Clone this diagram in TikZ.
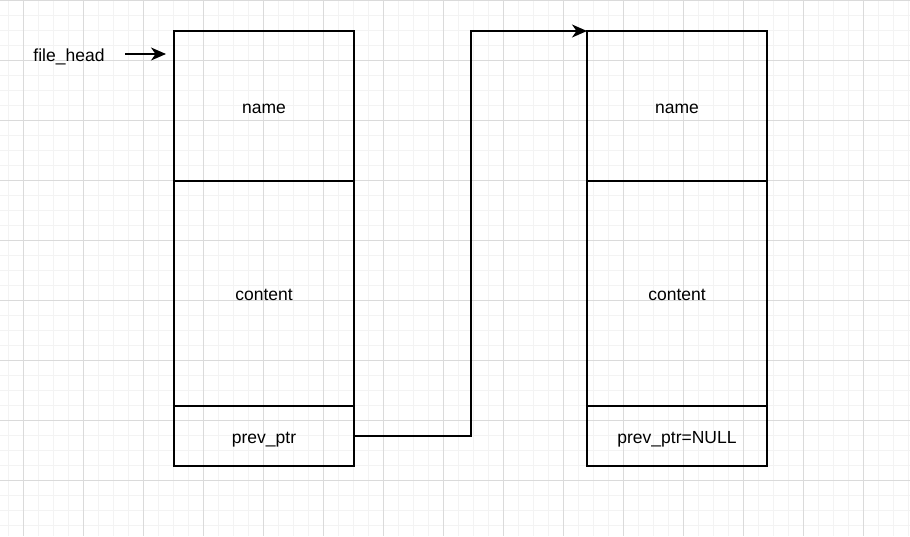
\documentclass[tikz,border=0pt]{standalone}
\usepackage{fontspec}
\setmainfont{Liberation Sans}
\usepackage{tikz}
\usetikzlibrary{arrows.meta,positioning,calc}
\definecolor{gridminor}{RGB}{243,243,243}
\definecolor{gridmajor}{RGB}{218,218,218}

\begin{document}
\begin{tikzpicture}[
        x=1pt,y=-1pt,
        node distance=0pt,
        lbl/.style={font=\fontsize{17.5}{20}\selectfont,
                    text height=14pt,text depth=0pt},
        cell/.style={lbl,draw,line width=1.5pt,minimum width=180pt,
                     inner sep=0pt,outer sep=0pt},
        namecell/.style={cell,minimum height=150pt},
        bodycell/.style={cell,minimum height=225pt},
        ptrcell/.style={cell,minimum height=60pt},
        arr/.style={-{Stealth[length=15pt,width=13pt,inset=4.5pt]},line width=1.5pt},
      ]
        \useasboundingbox (0,0) rectangle (910,536);
        \fill[white] (0,0) rectangle (910,536);
        % background grid
        \foreach \x in {8,23,...,908} \draw[gridminor,line width=1pt] (\x,0) -- (\x,536);
        \foreach \y in {15,30,...,535} \draw[gridminor,line width=1pt] (0,\y) -- (910,\y);
        \foreach \x in {23,83,...,863} \draw[gridmajor,line width=1pt] (\x,0) -- (\x,536);
        \foreach \y in {0,60,...,480} \draw[gridmajor,line width=1pt] (0,\y) -- (910,\y);
        % first record
        \node[namecell](n1) at (264,106){name};
        \node[bodycell,below=of n1](c1){content};
        \node[ptrcell,below=of c1](p1){prev\_ptr};
        % second record
        \node[namecell](n2) at (677,106){name};
        \node[bodycell,below=of n2](c2){content};
        \node[ptrcell,below=of c2](p2){prev\_ptr=NULL};
        \node[lbl](fh) at (69,54){file\_head};
        \draw[arr]([xshift=17pt]fh.east)--([xshift=-8pt]n1.west |- fh.east);
        \draw[arr](p1.east)--++(117,0)|-(n2.north west);
      \end{tikzpicture}
\end{document}
